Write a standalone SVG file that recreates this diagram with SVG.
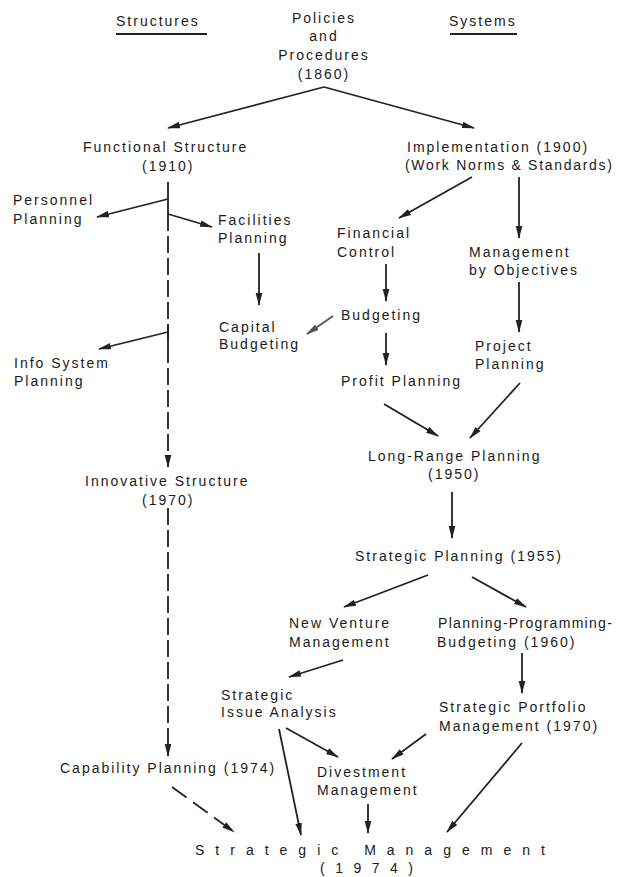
<svg xmlns="http://www.w3.org/2000/svg" width="625" height="877" viewBox="0 0 625 877">
<defs>
<marker id="ah" markerUnits="userSpaceOnUse" markerWidth="13" markerHeight="8" refX="12" refY="4" orient="auto">
<path d="M0,0.7 L13,4 L0,7.3 z" fill="#222"/>
</marker>
<marker id="ahg" markerUnits="userSpaceOnUse" markerWidth="13" markerHeight="8" refX="12" refY="4" orient="auto">
<path d="M0,0.7 L13,4 L0,7.3 z" fill="#555"/>
</marker>
<style>
text{font-family:"Liberation Sans",Arial,sans-serif;font-size:14px;letter-spacing:2px;fill:#1a1a1a}
.c{text-anchor:middle}
.e{stroke:#222;stroke-width:1.8;fill:none;marker-end:url(#ah)}
.n{stroke:#222;stroke-width:1.8;fill:none}
.d{stroke-dasharray:17 5}
.g{stroke:#555;marker-end:url(#ahg)}
</style>
</defs>
<rect width="625" height="877" fill="#fff"/>
<g id="headers">
<text x="116" y="26">Structures</text>
<line x1="116" y1="34" x2="207" y2="34" class="n"/>
<text x="449" y="26">Systems</text>
<line x1="450" y1="34" x2="517" y2="34" class="n"/>
</g>
<g id="policies"><text class="c" x="324" y="23">Policies</text><text class="c" x="324" y="41">and</text><text class="c" x="324" y="60">Procedures</text><text class="c" x="324" y="79">(1860)</text></g>
<g id="functional"><text x="83" y="152">Functional Structure</text><text x="142" y="171">(1910)</text></g>
<g id="implementation"><text x="407" y="152">Implementation (1900)</text><text x="405" y="170" style="letter-spacing:1.7px">(Work Norms &amp; Standards)</text></g>
<g id="personnel"><text x="13" y="205">Personnel</text><text x="13" y="224">Planning</text></g>
<g id="facilities"><text x="218" y="225">Facilities</text><text x="218" y="243">Planning</text></g>
<g id="financial"><text x="337" y="238">Financial</text><text x="337" y="257">Control</text></g>
<g id="mbo"><text x="469" y="257">Management</text><text x="469" y="275">by Objectives</text></g>
<g id="capital"><text x="219" y="332">Capital</text><text x="219" y="349">Budgeting</text></g>
<g id="budgeting"><text x="341" y="320">Budgeting</text></g>
<g id="project"><text x="475" y="351">Project</text><text x="475" y="369">Planning</text></g>
<g id="infosystem"><text x="14" y="368">Info System</text><text x="14" y="386">Planning</text></g>
<g id="profit"><text x="341" y="386">Profit Planning</text></g>
<g id="longrange"><text x="368" y="461">Long-Range Planning</text><text x="428" y="479">(1950)</text></g>
<g id="innovative"><text x="85" y="486">Innovative Structure</text><text x="142" y="505">(1970)</text></g>
<g id="strategicplanning"><text x="355" y="561">Strategic Planning (1955)</text></g>
<g id="newventure"><text x="289" y="628">New Venture</text><text x="289" y="647">Management</text></g>
<g id="ppb"><text x="438" y="628" style="letter-spacing:1.3px">Planning-Programming-</text><text x="437" y="647">Budgeting (1960)</text></g>
<g id="issue"><text x="221" y="700">Strategic</text><text x="221" y="717">Issue Analysis</text></g>
<g id="portfolio"><text x="439" y="712">Strategic Portfolio</text><text x="439" y="731">Management (1970)</text></g>
<g id="capability"><text x="60" y="773">Capability Planning (1974)</text></g>
<g id="divestment"><text x="317" y="777">Divestment</text><text x="317" y="795">Management</text></g>
<g id="strategicmanagement"><text x="195" y="855" style="letter-spacing:11px">Strategic Management</text><text x="320" y="873" style="letter-spacing:10.5px">(1974)</text></g>
<g id="connectors">
<line class="e" x1="324" y1="87" x2="168" y2="128"/>
<line class="e" x1="324" y1="87" x2="474" y2="128"/>
<line class="n" x1="168" y1="182" x2="168" y2="214"/>
<line class="e" x1="168" y1="199" x2="97" y2="217"/>
<line class="e" x1="168" y1="214" x2="212" y2="227"/>
<line class="e d" x1="168" y1="214" x2="168" y2="467"/>
<line class="n" x1="168" y1="325" x2="168" y2="346"/>
<line class="e" x1="168" y1="332" x2="99" y2="349"/>
<line class="e d" x1="168" y1="508" x2="168" y2="756"/>
<line class="e d" x1="172" y1="787" x2="234" y2="832" style="stroke-dasharray:18 8"/>
<line class="e" x1="259" y1="253" x2="259" y2="305"/>
<line class="e" x1="472" y1="177" x2="399" y2="218"/>
<line class="e" x1="519" y1="177" x2="519" y2="238"/>
<line class="e" x1="386" y1="264" x2="386" y2="301"/>
<line class="e" x1="519" y1="282" x2="519" y2="332"/>
<line class="e g" x1="333" y1="316" x2="307" y2="334"/>
<line class="e" x1="386" y1="333" x2="386" y2="365"/>
<line class="e" x1="384" y1="404" x2="438" y2="436"/>
<line class="e" x1="520" y1="383" x2="470" y2="438"/>
<line class="e" x1="452" y1="492" x2="452" y2="538"/>
<line class="e" x1="428" y1="575" x2="344" y2="607"/>
<line class="e" x1="472" y1="577" x2="526" y2="607"/>
<line class="e" x1="343" y1="660" x2="289" y2="677"/>
<line class="e" x1="522" y1="653" x2="522" y2="693"/>
<line class="e" x1="286" y1="728" x2="338" y2="757"/>
<line class="e" x1="279" y1="729" x2="301" y2="835"/>
<line class="e" x1="426" y1="734" x2="392" y2="759"/>
<line class="e" x1="368" y1="804" x2="368" y2="833"/>
<line class="e" x1="522" y1="743" x2="447" y2="832"/>
</g>
</svg>
